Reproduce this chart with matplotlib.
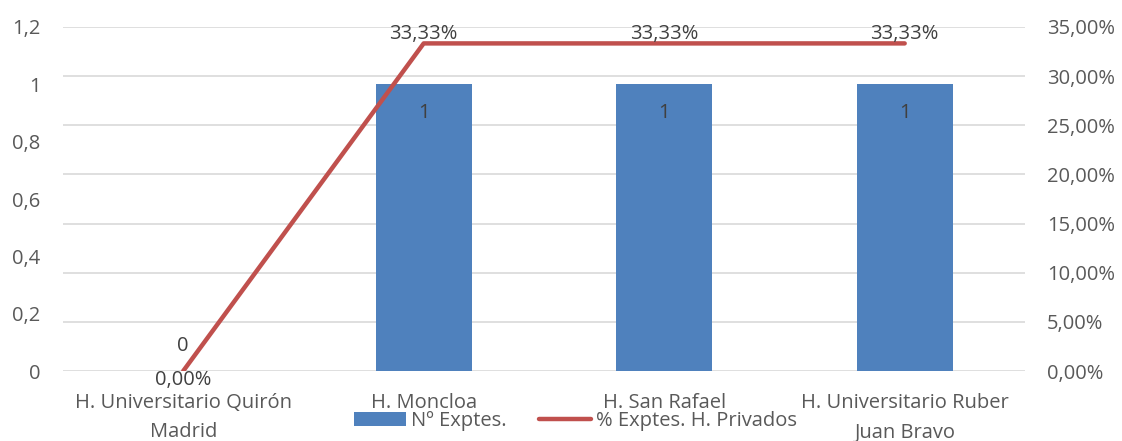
import matplotlib
matplotlib.use("Agg")
import matplotlib.pyplot as plt
from matplotlib.lines import Line2D
from matplotlib.patches import Patch
import numpy as np

# Data
hospitals = ["H. Universitario Quirón\nMadrid", "H. Moncloa", "H. San Rafael",
             "H. Universitario Ruber\nJuan Bravo"]
n_exptes = [0, 1, 1, 1]
pct_privados = [0.0, 0.3333, 0.3333, 0.3333]
left_ticks = [0, 0.2, 0.4, 0.6, 0.8, 1.0, 1.2]
right_ticks = [0, 0.05, 0.10, 0.15, 0.20, 0.25, 0.30, 0.35]

bar_color = "#4F81BD"
line_color = "#C0504D"
text_color = "#595959"
grid_color = "#D9D9D9"

plt.rcParams['font.family'] = ['Open Sans', 'DejaVu Sans']
fs = 14.5

fig = plt.figure(figsize=(11.22, 4.41), dpi=100)
ax = fig.add_axes([0.0561, 0.1587, 0.8574, 0.7801])
ax2 = ax.twinx()

x = np.arange(len(hospitals))
ax.set_xlim(-0.5, len(hospitals) - 0.5)
ax.set_ylim(0, 1.2)
ax2.set_ylim(0, 0.35)

# gridlines follow the secondary axis, drawn behind the bars
for t in right_ticks:
    ax.axhline(t * 1.2 / 0.35, color=grid_color, lw=1.2, zorder=0)

ax.bar(x, n_exptes, width=0.4, color=bar_color, zorder=2)
ax2.plot(x, pct_privados, color=line_color, lw=3.2, solid_capstyle='round', zorder=3)

# bar data labels
for xi, v in zip(x, n_exptes):
    if v > 0:
        ax.annotate(f"{v}", (xi, v), xytext=(0, -21), textcoords='offset points',
                    ha='center', va='center', fontsize=fs, color="#404040")
    else:
        ax.annotate(f"{v}", (xi, v), xytext=(0, 18), textcoords='offset points',
                    ha='center', va='center', fontsize=fs, color="#404040")

# line data labels
for xi, p in zip(x, pct_privados):
    lbl = f"{p * 100:.2f}%".replace(".", ",")
    dy = 7 if p > 0 else -6.5
    ax2.annotate(lbl, (xi, p), xytext=(0, dy), textcoords='offset points',
                 ha='center', va='center', fontsize=fs, color="#404040")

def fmt_left(v):
    s = f"{v:g}".replace(".", ",")
    return s

ax.set_yticks(left_ticks)
ax.set_yticklabels([fmt_left(v) for v in left_ticks])
ax2.set_yticks(right_ticks)
ax2.set_yticklabels([f"{v * 100:.2f}%".replace(".", ",") for v in right_ticks])
ax.set_xticks(x)
ax.set_xticklabels(hospitals, linespacing=1.6)

ax.tick_params(axis='y', length=0, pad=16, labelsize=fs, labelcolor=text_color)
ax2.tick_params(axis='y', length=0, pad=16, labelsize=fs, labelcolor=text_color)
ax.tick_params(axis='x', length=0, pad=16, labelsize=fs, labelcolor=text_color)

for a in (ax, ax2):
    for s in a.spines.values():
        s.set_visible(False)

handles = [Patch(facecolor=bar_color, edgecolor='none'),
           Line2D([0], [0], color=line_color, lw=3.2, solid_capstyle='round')]
fig.legend(handles, ["Nº Exptes.", "% Exptes. H. Privados"], loc='center',
           bbox_to_anchor=(0.513, 1 - 421 / 441), ncol=2, frameon=False,
           fontsize=fs, labelcolor=text_color, handlelength=2.6, handleheight=0.7,
           handletextpad=0.25, columnspacing=1.6, borderpad=0)

fig.savefig("out.png", dpi=100)
